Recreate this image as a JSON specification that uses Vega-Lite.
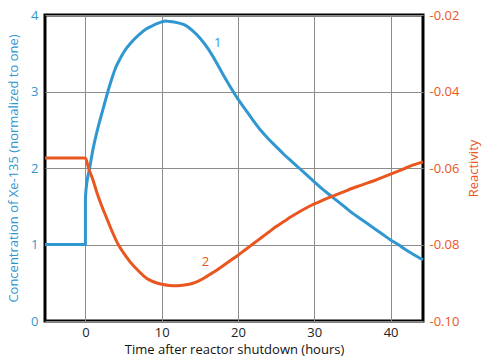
{
  "$schema": "https://vega.github.io/schema/vega-lite/v6.json",
  "width": 378,
  "height": 306,
  "autosize": {"type": "none"},
  "padding": {"left": 45, "top": 15, "right": 77, "bottom": 41},
  "config": {
    "font": "Open Sans",
    "view": {"stroke": "#000000", "strokeWidth": 3},
    "axis": {"labelFontSize": 13, "titleFontSize": 13, "titleFontWeight": "normal", "ticks": false, "domain": false, "gridColor": "#8c8c8c", "gridOpacity": 1, "gridWidth": 1}
  },
  "datasets": {
    "xenon": [
      {"t": -5.3, "xe": 1.0}, {"t": -0.001, "xe": 1.0}, {"t": 0.0, "xe": 1.6}, {"t": 0.2, "xe": 1.82}, {"t": 0.5, "xe": 1.97},
      {"t": 1.0, "xe": 2.25}, {"t": 1.5, "xe": 2.47}, {"t": 2.0, "xe": 2.66}, {"t": 2.5, "xe": 2.84}, {"t": 3.0, "xe": 3.02},
      {"t": 3.5, "xe": 3.18}, {"t": 4.0, "xe": 3.32}, {"t": 4.5, "xe": 3.42}, {"t": 5.0, "xe": 3.51}, {"t": 6.0, "xe": 3.64}, {"t": 7.0, "xe": 3.74},
      {"t": 8.0, "xe": 3.82}, {"t": 9.0, "xe": 3.87}, {"t": 10.0, "xe": 3.91}, {"t": 10.5, "xe": 3.92}, {"t": 11.0, "xe": 3.915},
      {"t": 12.0, "xe": 3.9}, {"t": 13.0, "xe": 3.87}, {"t": 14.0, "xe": 3.8}, {"t": 15.0, "xe": 3.7}, {"t": 16.0, "xe": 3.57},
      {"t": 17.0, "xe": 3.41}, {"t": 18.0, "xe": 3.23}, {"t": 19.0, "xe": 3.06}, {"t": 20.0, "xe": 2.9}, {"t": 21.0, "xe": 2.76},
      {"t": 22.0, "xe": 2.62}, {"t": 23.0, "xe": 2.49}, {"t": 24.0, "xe": 2.38}, {"t": 25.0, "xe": 2.28}, {"t": 26.0, "xe": 2.18},
      {"t": 27.0, "xe": 2.09}, {"t": 28.0, "xe": 2.0}, {"t": 29.0, "xe": 1.91}, {"t": 30.0, "xe": 1.82}, {"t": 31.0, "xe": 1.73},
      {"t": 32.0, "xe": 1.65}, {"t": 33.0, "xe": 1.57}, {"t": 34.0, "xe": 1.49}, {"t": 35.0, "xe": 1.41}, {"t": 36.0, "xe": 1.34},
      {"t": 37.0, "xe": 1.27}, {"t": 38.0, "xe": 1.2}, {"t": 39.0, "xe": 1.13}, {"t": 40.0, "xe": 1.06}, {"t": 41.0, "xe": 1.0},
      {"t": 42.0, "xe": 0.93}, {"t": 43.0, "xe": 0.87}, {"t": 44.25, "xe": 0.8}
    ],
    "reactivity": [
      {"t": -5.3, "react": -0.0574}, {"t": 0, "react": -0.0574}, {"t": 0.4, "react": -0.06}, {"t": 1.0, "react": -0.0632},
      {"t": 1.5, "react": -0.0664}, {"t": 2.0, "react": -0.0692}, {"t": 2.8, "react": -0.0732}, {"t": 3.5, "react": -0.0766},
      {"t": 4.3, "react": -0.08}, {"t": 5.0, "react": -0.0822}, {"t": 5.8, "react": -0.0844}, {"t": 7.0, "react": -0.087},
      {"t": 8.0, "react": -0.0888}, {"t": 9.0, "react": -0.0898}, {"t": 10.0, "react": -0.0904}, {"t": 11.0, "react": -0.0907},
      {"t": 12.0, "react": -0.0908}, {"t": 13.0, "react": -0.0906}, {"t": 14.0, "react": -0.0902}, {"t": 15.0, "react": -0.0894},
      {"t": 16.0, "react": -0.0882}, {"t": 17.0, "react": -0.087}, {"t": 18.0, "react": -0.0856}, {"t": 19.0, "react": -0.0842},
      {"t": 20.0, "react": -0.0828}, {"t": 21.0, "react": -0.0813}, {"t": 22.0, "react": -0.0798}, {"t": 23.0, "react": -0.0783},
      {"t": 24.0, "react": -0.0768}, {"t": 25.0, "react": -0.0753}, {"t": 26.0, "react": -0.074}, {"t": 27.0, "react": -0.0727},
      {"t": 28.0, "react": -0.0715}, {"t": 29.0, "react": -0.0704}, {"t": 30.0, "react": -0.0694}, {"t": 31.0, "react": -0.0685},
      {"t": 32.0, "react": -0.0677}, {"t": 33.0, "react": -0.0669}, {"t": 34.0, "react": -0.0661}, {"t": 35.0, "react": -0.0653},
      {"t": 36.0, "react": -0.0646}, {"t": 37.0, "react": -0.0639}, {"t": 38.0, "react": -0.0632}, {"t": 39.0, "react": -0.0624},
      {"t": 40.0, "react": -0.0616}, {"t": 41.0, "react": -0.0608}, {"t": 42.0, "react": -0.06}, {"t": 43.0, "react": -0.0592},
      {"t": 44.25, "react": -0.0584}
    ],
    "label1": [{"t": 17.33, "xe": 3.63, "text": "1"}],
    "label2": [{"t": 15.75, "react": -0.0847, "text": "2"}]
  },
  "layer": [
    {
      "layer": [
        {
          "data": {"name": "xenon"},
          "mark": {"type": "line", "color": "#3097d1", "strokeWidth": 3, "interpolate": "monotone"},
          "encoding": {
            "x": {"field": "t", "type": "quantitative", "scale": {"domain": [-5.3, 44.25], "nice": false, "zero": false},
                  "axis": {"values": [0, 10, 20, 30, 40], "grid": true, "labelColor": "#222222", "titleColor": "#111111", "labelPadding": 5, "titlePadding": 4, "title": "Time after reactor shutdown (hours)"}},
            "y": {"field": "xe", "type": "quantitative", "scale": {"domain": [0, 4], "nice": false, "zero": false},
                  "axis": {"orient": "left", "values": [0, 1, 2, 3, 4], "format": "d", "grid": true, "labelColor": "#3097d1", "titleColor": "#3097d1", "labelPadding": 7, "titlePadding": 10, "title": "Concentration of Xe-135 (normalized to one)"}}
          }
        },
        {
          "data": {"name": "label1"},
          "mark": {"type": "text", "color": "#3097d1", "fontSize": 13, "font": "Open Sans"},
          "encoding": {
            "x": {"field": "t", "type": "quantitative"},
            "y": {"field": "xe", "type": "quantitative"},
            "text": {"field": "text"}
          }
        }
      ]
    },
    {
      "layer": [
        {
          "data": {"name": "reactivity"},
          "mark": {"type": "line", "color": "#e9561f", "strokeWidth": 3, "interpolate": "monotone"},
          "encoding": {
            "x": {"field": "t", "type": "quantitative"},
            "y": {"field": "react", "type": "quantitative", "scale": {"domain": [-0.10, -0.02], "nice": false, "zero": false},
                  "axis": {"orient": "right", "values": [-0.10, -0.08, -0.06, -0.04, -0.02], "grid": false, "labelExpr": "replace(format(datum.value, '.2f'), '\u2212', '-')", "labelColor": "#e9561f", "titleColor": "#e9561f", "labelPadding": 6, "titlePadding": 22, "titleAngle": 270, "title": "Reactivity"}}
          }
        },
        {
          "data": {"name": "label2"},
          "mark": {"type": "text", "color": "#e9561f", "fontSize": 13, "font": "Open Sans"},
          "encoding": {
            "x": {"field": "t", "type": "quantitative"},
            "y": {"field": "react", "type": "quantitative"},
            "text": {"field": "text"}
          }
        }
      ]
    }
  ],
  "resolve": {"scale": {"y": "independent"}, "axis": {"y": "independent"}}
}
